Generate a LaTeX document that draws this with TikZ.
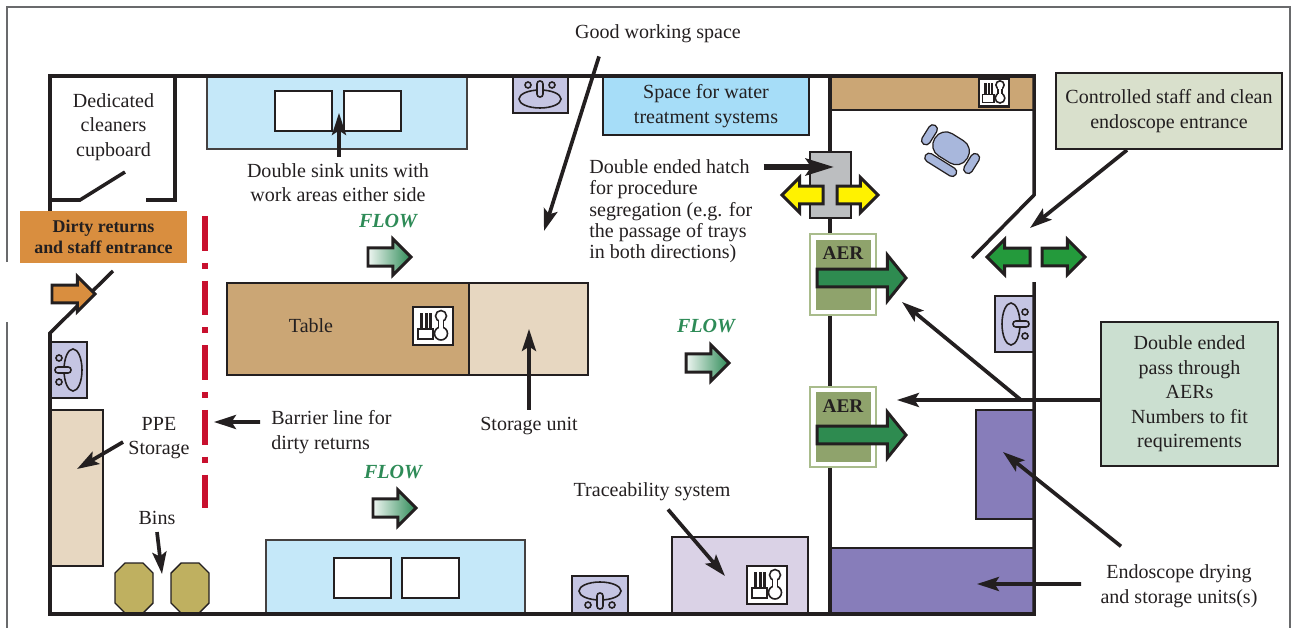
\documentclass[tikz,border=0pt]{standalone}
\usepackage{fontspec}
\setmainfont{Liberation Serif}
\usepackage{xcolor}
\usetikzlibrary{positioning,calc,arrows.meta,shapes.arrows}
\definecolor{inkdark}{RGB}{35,31,32}
\definecolor{framegrey}{RGB}{105,106,108}
\definecolor{sinkblue}{RGB}{197,232,249}
\definecolor{waterblue}{RGB}{166,221,248}
\definecolor{tabletan}{RGB}{203,166,117}
\definecolor{storebeige}{RGB}{231,215,193}
\definecolor{basinlilac}{RGB}{197,197,227}
\definecolor{tracelilac}{RGB}{218,210,230}
\definecolor{dryerpurple}{RGB}{135,125,186}
\definecolor{binolive}{RGB}{191,176,96}
\definecolor{hatchgrey}{RGB}{188,190,192}
\definecolor{aerolive}{RGB}{143,163,108}
\definecolor{aeredge}{RGB}{169,188,140}
\definecolor{aergreen}{RGB}{46,139,80}
\definecolor{doorgreen}{RGB}{36,154,60}
\definecolor{flowgreen}{RGB}{46,139,87}
\definecolor{dirtyorange}{RGB}{217,142,63}
\definecolor{barrierred}{RGB}{200,16,46}
\definecolor{ctrlgreen}{RGB}{217,224,204}
\definecolor{passgreen}{RGB}{203,223,208}
\definecolor{chairblue}{RGB}{168,183,220}

\begin{document}
\begin{tikzpicture}[
	x=0.02cm, y=-0.02cm,
	lbl/.style={font=\fontsize{11.4}{13.9}\selectfont, text=inkdark, align=center, inner sep=0pt},
	flowlbl/.style={font=\fontsize{11.4}{13}\selectfont\bfseries\itshape, text=flowgreen, inner sep=0pt},
	wall/.style={draw=inkdark, line width=2pt},
	unit/.style={draw=inkdark, line width=1.6pt},
	thinunit/.style={draw=inkdark!85, line width=0.7pt},
	callout/.style={draw=inkdark, line width=2.1pt, -{Stealth[length=12.5pt,width=8pt,inset=2.5pt]}},
	blockarrow/.style={single arrow, draw=inkdark, line width=1.7pt, inner sep=0pt, outer sep=0pt,
		anchor=tail, single arrow tip angle=90},
	flowarrow/.style={blockarrow, minimum height=0.86cm, inner ysep=4.4pt, single arrow head extend=5pt,
		left color=flowgreen!8, right color=flowgreen},
	doorarrow/.style={blockarrow, minimum height=0.86cm, inner ysep=4.2pt, single arrow head extend=5pt, fill=doorgreen},
	hatcharrow/.style={blockarrow, minimum height=0.82cm, inner ysep=4.2pt, single arrow head extend=5pt, fill=yellow},
	aerarrow/.style={blockarrow, minimum height=1.78cm, inner ysep=4.2pt, single arrow head extend=8pt,
		single arrow tip angle=102, fill=aergreen},
	aerbox/.style={draw=aeredge, line width=1.1pt, fill=white},
	pics/basin/.style={code={
		\draw[inkdark, line width=0.9pt] (0,5) ellipse [x radius=21, y radius=9];
		\draw[inkdark, line width=0.9pt, fill=basinlilac, rounded corners=1.6pt] (-3,-13) rectangle (3,3);
		\draw[inkdark, line width=0.9pt] (-12,-9) circle [radius=3] (12,-9) circle [radius=3];
	}},
	pics/toolicon/.style={code={
		\draw[inkdark, line width=1.5pt, fill=white] (-20,-19) rectangle (20,19);
		\foreach \tx in {-13,-8.5,-4} \fill[inkdark] (\tx,-13) rectangle ++(3,16);
		\draw[inkdark, line width=0.8pt, fill=white] (-15,3) rectangle (0,13);
		\draw[inkdark, line width=0.9pt, fill=white] (8,-10) circle [radius=5.5] (8,7.5) circle [radius=6.5];
		\fill[white] (5.6,-10) rectangle (10.4,7.5);
		\draw[inkdark, line width=0.9pt] (5.6,-5.2) -- (5.6,1.8) (10.4,-5.2) -- (10.4,1.8);
	}}
]
\useasboundingbox (0,0) rectangle (1291,628);

% page frame, open on the left behind the entrance
\draw[framegrey, line width=0.85pt] (7,262) -- (7,7) -- (1290,7) -- (1290,628);
\draw[framegrey, line width=0.85pt] (7,322) -- (7,628);

% benches and units
\draw[thinunit, fill=sinkblue] (207,76) rectangle (467,149);
\draw[unit, line width=1.2pt, fill=white] (275,91) rectangle (332,131);
\draw[unit, line width=1.2pt, fill=white] (344,91) rectangle (401,131);
\draw[thinunit, fill=sinkblue] (266,540) rectangle (525,614);
\draw[unit, line width=1.2pt, fill=white] (334,558) rectangle (391,598);
\draw[unit, line width=1.2pt, fill=white] (402,558) rectangle (459,598);
\draw[unit, line width=1.2pt, fill=waterblue] (603,76) rectangle (809,135);
\draw[unit, fill=tabletan] (227,283) rectangle (469,375);
\draw[unit, fill=storebeige] (469,283) rectangle (588,375);
\draw[unit, fill=storebeige] (50,410) rectangle (103,566);
\draw[unit, fill=tracelilac] (672,537) rectangle (808,614);
\draw[unit, line width=1.2pt, fill=dryerpurple] (976,410) rectangle (1034,519);
\draw[unit, line width=1.2pt, fill=dryerpurple] (830,548) rectangle (1034,614);
\draw[unit, line width=1.2pt, fill=tabletan] (830,76) rectangle (1034,110);

% hand basins
\draw[unit, line width=1.4pt, fill=basinlilac] (513,76) rectangle (568,113);
\pic at (540,94) {basin};
\draw[unit, line width=1.4pt, fill=basinlilac] (50,342) rectangle (87,398);
\pic[rotate=90] at (68,370) {basin};
\draw[unit, line width=1.4pt, fill=basinlilac] (572,576) rectangle (628,614);
\pic[rotate=180] at (600,596) {basin};
\draw[unit, line width=1.4pt, fill=basinlilac] (995,296) rectangle (1034,352);
\pic[rotate=-90] at (1016,324) {basin};

% bins
\foreach \bx in {134,190}
	\draw[inkdark, line width=0.8pt, fill=binolive] (\bx-9,563) -- (\bx+9,563) -- (\bx+19,573) -- (\bx+19,603)
		-- (\bx+9,613) -- (\bx-9,613) -- (\bx-19,603) -- (\bx-19,573) -- cycle;

% walls
\draw[wall] (50,211) -- (50,76) -- (1034,76) -- (1034,195) -- (972,258);
\draw[wall] (113,271) -- (50,333) -- (50,614) -- (1034,614) -- (1034,282);
\draw[wall] (175,76) -- (175,200) -- (146,200);
\draw[wall] (50,200) -- (80,200) -- (125,172);
\draw[wall] (830,76) -- (830,614);
\draw[wall, line width=1.7pt] (830,110) -- (1034,110);

% tool icons
\pic at (433,326) {toolicon};
\pic[scale=0.75] at (994,92.5) {toolicon};
\pic at (767,585) {toolicon};

% barrier line
\draw[barrierred, line width=3.1pt, dash pattern=on 19.8pt off 6.8pt on 3.4pt off 6.8pt] (205,216) -- (205,508);

% chair
\begin{scope}[shift={(950,150)}, rotate=-32]
	\draw[inkdark, line width=0.7pt, fill=chairblue, rounded corners=7pt] (-19,-15) rectangle (19,11);
	\draw[inkdark, line width=0.7pt, fill=chairblue, rounded corners=2.5pt] (-18,13) rectangle (18,22);
	\draw[inkdark, line width=0.7pt, fill=chairblue, rounded corners=2.5pt] (-30,-13) rectangle (-21,9);
	\draw[inkdark, line width=0.7pt, fill=chairblue, rounded corners=2.5pt] (21,-11) rectangle (30,11);
\end{scope}

% hatch and AERs
\draw[unit, fill=hatchgrey] (810,152) rectangle (851,218);
\node[hatcharrow, shape border rotate=180] (hatchleft) at (823,195) {};
\node[hatcharrow] (hatchright) at (837,195) {};
\draw[aerbox] (810,234) rectangle (876,315);
\fill[aerolive] (816,240) rectangle (871,310);
\draw[aerbox] (810,387) rectangle (876,467);
\fill[aerolive] (816,392) rectangle (871,462);
\node[font=\fontsize{11}{13}\selectfont\bfseries, text=inkdark, inner sep=0pt] (aerone) at (843,253) {AER};
\node[font=\fontsize{11}{13}\selectfont\bfseries, text=inkdark, inner sep=0pt] (aertwo) at (843,406) {AER};
\node[aerarrow] (aerarrowone) at (817,278) {};
\node[aerarrow] (aerarrowtwo) at (817,435) {};

% entrances and flow
\node[doorarrow, shape border rotate=180] (doorleft) at (1030,257) {};
\node[doorarrow] (doorright) at (1042,257) {};
\node[flowlbl] (flowtop) at (388,221) {FLOW};
\node[flowarrow] (flowarrowtop) at (368,257) {};
\node[flowlbl] (flowmid) at (706,326) {FLOW};
\node[flowarrow] (flowarrowmid) at (686,363) {};
\node[flowlbl] (flowlow) at (393,472) {FLOW};
\node[flowarrow] (flowarrowlow) at (373,508) {};

\node[fill=dirtyorange, minimum width=3.34cm, minimum height=1.04cm, align=center, inner sep=0pt, text=inkdark,
	font=\fontsize{10.2}{12.2}\selectfont\bfseries] (dirtybox) at (103.5,237) {Dirty returns\\and staff entrance};
\node[blockarrow, minimum height=0.86cm, inner ysep=4.2pt, single arrow head extend=5pt, fill=dirtyorange] (dirtyarrow) at (52,294) {};

% labels
\node[lbl] (cupboard) at (113.5,127) {Dedicated\\cleaners\\cupboard};
\node[lbl] (table) at (311,326) {Table};
\node[lbl] (sinklabel) at (338,182.5) {Double sink units with\\work areas either side};
\node[lbl] (goodlabel) at (658,34) {Good working space};
\node[lbl] (waterlabel) at (706,106) {Space for water\\treatment systems};
\node[lbl, font=\fontsize{11.4}{12.2}\selectfont, align=left, anchor=north west] (hatchlabel) at (589,159) {Double ended hatch\\for procedure\\segregation (e.g. for\\the passage of trays\\in both directions)};
\node[lbl] (storelabel) at (529,426) {Storage unit};
\node[lbl] (ppelabel) at (159,438) {PPE\\Storage};
\node[lbl, align=left, anchor=west] (barrierlabel) at (271,432) {Barrier line for\\dirty returns};
\node[lbl] (binslabel) at (157,518) {Bins};
\node[lbl] (tracelabel) at (652,492) {Traceability system};
\node[lbl] (dryerlabel) at (1179,586) {Endoscope drying\\and storage units(s)};
\node[lbl, draw=inkdark, line width=1.2pt, fill=ctrlgreen, minimum width=4.52cm, minimum height=1.52cm] (ctrlbox) at (1169,111) {Controlled staff and clean\\endoscope entrance};
\node[lbl, draw=inkdark, line width=1.2pt, fill=passgreen, minimum width=3.54cm, minimum height=2.88cm] (passbox) at (1189.5,394) {Double ended\\pass through\\AERs\\Numbers to fit\\requirements};

% arrow targets
\coordinate (sinktip) at (339,113);
\coordinate (storetip) at (529,329);
\coordinate (goodtip) at (544,231);
\coordinate (hatchtip) at (834,167);
\coordinate (ppetip) at (77,469);
\coordinate (barriertip) at (214,422);
\coordinate (binstip) at (162,574);
\coordinate (tracetip) at (725,576);
\coordinate (ctrltip) at (1030,228);
\coordinate (passtip) at (897,400);
\coordinate (passjoin) at (1021,400);
\coordinate (aertip) at (902,302);
\coordinate (drytipa) at (1003,452);
\coordinate (drytipb) at (977,584);

% callouts
\draw[callout] ([xshift=.02cm,yshift=.12cm]sinklabel.north) -- (sinktip);
\draw[callout] ([yshift=.14cm]storelabel.north) -- (storetip);
\draw[callout] ([xshift=-1.18cm,yshift=-.26cm]goodlabel.south) -- (goodtip);
\draw[callout, line width=3.4pt, -{Stealth[length=16pt,width=9.5pt,inset=3pt]}] (hatchlabel.north east |- hatchtip) ++(.22cm,0) -- (hatchtip);
\draw[callout] ([xshift=-.1cm,yshift=-.08cm]ppelabel.west) -- (ppetip);
\draw[callout] ([xshift=-.22cm,yshift=.2cm]barrierlabel.west) -- (barriertip);
\draw[callout] ([yshift=-.14cm]binslabel.south) -- (binstip);
\draw[callout] ([xshift=.32cm,yshift=-.16cm]tracelabel.south) -- (tracetip);
\draw[callout] ([xshift=-.84cm]ctrlbox.south) -- (ctrltip);
\draw[callout] ([yshift=-.12cm]passbox.west) -- (passtip);
\draw[callout] (passjoin) -- (aertip);
\draw[callout] ([xshift=-1.16cm,yshift=.36cm]dryerlabel.north) -- (drytipa);
\draw[callout] ([xshift=-.38cm,yshift=.04cm]dryerlabel.west) -- (drytipb);
\end{tikzpicture}
\end{document}
